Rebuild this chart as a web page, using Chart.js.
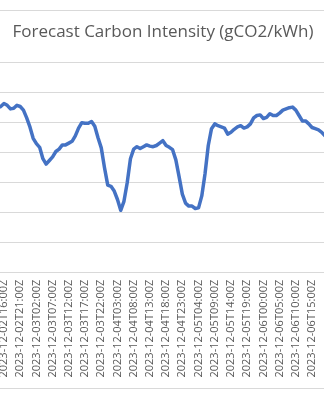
<!DOCTYPE html>
<html>
<head>
<meta charset="utf-8">
<script src="https://cdn.jsdelivr.net/npm/chart.js@4.4.0/dist/chart.umd.min.js"></script>
<style>
    html, body { margin: 0; padding: 0; width: 324px; height: 400px; overflow: hidden; background: #fff; }
    #frame { position: absolute; left: -60px; top: 10px; width: 440px; height: 377px; border: 1px solid #d9d9d9; }
    #c { position: absolute; left: -42px; top: 10px; }
</style>
</head>
<body>
<div id="frame"></div>
<canvas id="c" width="410" height="378"></canvas>
<script>
// hourly forecast, first point 2023-12-02T14:00Z
const startTime = '2023-12-02T14:00Z';
const intensity = [
    275, 277, 282, 279, 273, 274, 279, 277, 271, 258,
    243, 224, 215, 209, 190, 181, 187, 193, 202, 206,
    213, 213, 216, 219, 228, 241, 250, 249, 249, 252,
    244, 225, 208, 175, 146, 144, 136, 122, 104, 119,
    150, 190, 206, 210, 207, 210, 213, 211, 210, 212,
    216, 220, 212, 209, 205, 188, 160, 131, 116, 111,
    111, 107, 108, 128, 165, 212, 240, 248, 245, 243,
    241, 231, 234, 239, 243, 245, 241, 243, 248, 258,
    262, 263, 257, 259, 265, 262, 262, 266, 271, 273,
    275, 276, 271, 262, 253, 253, 248, 242, 240, 238,
    234, 228
];
const yMin = 0, yMax = 350, yStep = 50;
const labelEvery = 5, labelFirst = 2;   // labels shown from 2023-12-02T16:00Z

const categories = intensity.map((_, i) =>
    new Date(Date.parse(startTime) + i * 3600e3).toISOString().slice(0, 16) + 'Z');

const grey = '#595959';
const gridGrey = '#d9d9d9';

new Chart(document.getElementById('c'), {
    type: 'line',
    data: {
        labels: categories,
        datasets: [{
            data: intensity,
            borderColor: '#4472C4', borderWidth: 3.5,
            pointRadius: 0, tension: 0, fill: false,
            borderJoinStyle: 'round', borderCapStyle: 'round'
        }]
    },
    options: {
        responsive: false, animation: false, devicePixelRatio: 1,
        layout: { padding: 0 },
        plugins: {
            legend: { display: false },
            tooltip: { enabled: false },
            title: {
                display: true, text: 'Forecast Carbon Intensity (gCO2/kWh)', color: grey,
                font: { family: 'Open Sans', size: 17, weight: 'normal' },
                padding: { top: 11.5, bottom: 20.8 }
            }
        },
        scales: {
            x: {
                offset: false,
                grid: { display: false, drawTicks: false },
                border: { display: true, color: gridGrey },
                ticks: {
                    autoSkip: false, minRotation: 90, maxRotation: 90, padding: 7,
                    color: grey, font: { family: 'Open Sans', size: 11 },
                    callback: (v, i) => (i - labelFirst) % labelEvery === 0 ? categories[i] : null
                },
                afterFit: s => { s.height = 115.3; s.paddingLeft = 0; s.paddingRight = 43; }
            },
            y: {
                min: yMin, max: yMax,
                grid: { color: gridGrey, drawTicks: false },
                border: { display: false },
                ticks: { stepSize: yStep, color: grey, font: { family: 'Open Sans', size: 11 } },
                afterFit: s => { s.width = 39.5; }
            }
        }
    }
});
</script>
</body>
</html>
